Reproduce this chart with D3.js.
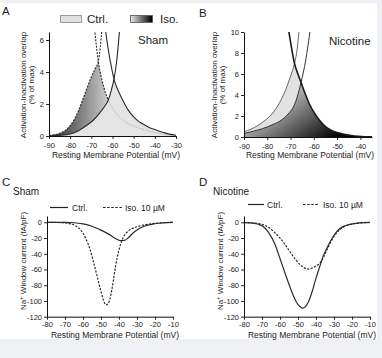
<!DOCTYPE html>
<html><head><meta charset="utf-8">
<script src="https://cdn.jsdelivr.net/npm/d3@7"></script>
<style>
html,body{margin:0;padding:0;background:#eff0f4;}
svg{display:block;}
text{font-family:"Liberation Sans",Arial,sans-serif;fill:#222;}
</style></head><body>
<svg id="c" width="382" height="358"></svg>
<script>
// ---------- DATA ----------
// Panel A (Sham) : [membrane potential mV, overlap % of max]
const aCtrlAct   = [[-90,0.01],[-85,0.04],[-80,0.13],[-77,0.27],[-74,0.5],[-71,0.78],[-69,1.0],[-66,1.45],[-64,1.8],[-62,2.25],[-60.5,2.9],[-59.3,3.56],[-58,4.7],[-57,6.1],[-56,7.6]];
const aCtrlInact = [[-64.5,7.8],[-63.2,6.5],[-62,5.4],[-60.5,4.3],[-59.3,3.56],[-57,2.75],[-55,2.2],[-52.5,1.6],[-50,1.2],[-47.5,0.9],[-45,0.7],[-42.5,0.52],[-40,0.4],[-37.5,0.28],[-35,0.18],[-32.5,0.1],[-30,0.05]];
const aIsoAct    = [[-90,0.04],[-87,0.1],[-84,0.22],[-82,0.38],[-80,0.65],[-78,1.05],[-76,1.6],[-74,2.3],[-72,3.0],[-70,3.7],[-68,4.25],[-66.7,4.65],[-65.8,5.5],[-65.1,6.5],[-64.5,7.5]];
const aIsoInact  = [[-69,7.5],[-68.3,6.5],[-67.5,5.5],[-66.7,4.65],[-65.5,3.8],[-64,3.0],[-62,2.25],[-60,1.75],[-57.5,1.3],[-55,1.0],[-52.5,0.78],[-50,0.62],[-47.5,0.5],[-45,0.4],[-42.5,0.3],[-40,0.22],[-37.5,0.15],[-35,0.09],[-32.5,0.04],[-30,0.02]];
// Panel B (Nicotine)
const bCtrlAct = [[-90,0.5],[-87,0.75],[-84,1.1],[-81.7,1.46],[-78,2.2],[-74.5,3.36],[-72,4.55],[-70.3,5.6],[-69.2,6.3],[-68.3,7.0],[-67.2,8.3],[-66.4,10],[-65.8,11.5]];
const bIsoAct  = [[-90,0.33],[-86,0.55],[-82,0.8],[-78,1.15],[-74,1.6],[-71,2.2],[-68.5,3.0],[-67,3.9],[-65.5,5.2],[-64,6.7],[-62.7,8.4],[-61.7,10],[-61,11.3]];
const bInact   = [[-71.5,11.2],[-70.7,10],[-69.5,8.4],[-68.3,7.0],[-67,6.1],[-65.5,5.2],[-63.5,4.0],[-61.7,3.05],[-59.5,2.2],[-57.4,1.55],[-55,1.0],[-53,0.7],[-50,0.42],[-47,0.25],[-44,0.14],[-41,0.07],[-38,0.03],[-35,0.01]];
// Panel C (Sham) window current fA/pF
const cCtrl = [[-80,0],[-70,-0.2],[-65,-0.6],[-60,-2],[-55,-5],[-50,-10],[-45,-16],[-42,-20.5],[-39,-23.2],[-37,-23],[-35,-20],[-33,-15.5],[-31,-11.5],[-29,-8.3],[-26,-5],[-22,-2.6],[-18,-1.2],[-14,-0.5],[-10,-0.2]];
const cIso  = [[-80,0],[-72,-0.5],[-68,-1.5],[-65,-3.5],[-62,-8],[-60,-14],[-58,-23],[-56,-35],[-54,-52],[-52,-70],[-50,-88],[-48.5,-100],[-47.2,-105],[-46,-103],[-45,-97],[-44,-86],[-43,-72],[-42,-57],[-41,-45],[-40,-35],[-38.5,-23.5],[-37,-16.5],[-35,-11.5],[-33,-8.3],[-30,-5.6],[-27,-3.8],[-24,-2.5],[-20,-1.4],[-15,-0.5],[-10,-0.15]];
// Panel D (Nicotine)
const dCtrl = [[-80,-0.3],[-75,-1],[-72,-2.5],[-69,-6],[-66,-14],[-63,-27],[-60,-46],[-57,-66],[-54,-85],[-51,-101],[-49,-107],[-47.4,-109],[-46,-107.5],[-44,-100],[-42,-87],[-40,-71],[-38,-57],[-36,-43],[-34,-33],[-32,-24],[-30,-16.5],[-28,-10.5],[-25,-5.5],[-22,-3],[-18,-1.3],[-14,-0.5],[-10,-0.2]];
const dIso  = [[-80,-0.2],[-75,-0.8],[-70,-2.5],[-66,-7],[-63,-13],[-60,-20],[-57,-29],[-54,-39],[-51,-48.5],[-48,-55.5],[-45.5,-59],[-43.7,-59.5],[-42,-58],[-40,-55.5],[-38,-52.5],[-36,-45],[-34,-35.5],[-32,-26],[-30,-18],[-28,-12],[-25,-6.5],[-22,-3.5],[-18,-1.5],[-14,-0.6],[-10,-0.25]];
// tick labels
const abXTicksA = [-90,-80,-70,-60,-50,-40,-30];
const abXTicksB = [-90,-80,-70,-60,-50,-40];
const aYTicks = [0,2,4,6];
const bYTicks = [0,2,4,6,8,10];
const cdXTicks = [-80,-70,-60,-50,-40,-30,-20,-10];
const cdYTicks = [0,-20,-40,-60,-80,-100,-120];
const xTitle = "Resting Membrane Potential (mV)";

// ---------- DRAWING ----------
const svg = d3.select("#c");
svg.append("rect").attr("x",0).attr("y",3).attr("width",377).attr("height",336).attr("fill","#fff");
const defs = svg.append("defs");
let uid = 0;

function grad(id, x1,y1,x2,y2, stops){
  const g = defs.append("linearGradient").attr("id",id).attr("gradientUnits","userSpaceOnUse")
    .attr("x1",x1).attr("y1",y1).attr("x2",x2).attr("y2",y2);
  stops.forEach(s=>g.append("stop").attr("offset",s[0]).attr("stop-color",s[1]));
}

function drawAxes(x, y, xt, xm, yt, ym, xpad){
  const gx = svg.append("g").attr("transform",`translate(0,${y.range()[0]})`);
  gx.call(d3.axisBottom(x).tickValues(xm).tickSize(1.8).tickSizeOuter(0).tickFormat(""));
  gx.call(d3.axisBottom(x).tickValues(xt).tickSize(3).tickPadding(xpad).tickSizeOuter(0).tickFormat(d=>String(d)));
  const gy = svg.append("g").attr("transform",`translate(${x.range()[0]},0)`);
  gy.call(d3.axisLeft(y).tickValues(ym).tickSize(1.8).tickSizeOuter(0).tickFormat(""));
  gy.call(d3.axisLeft(y).tickValues(yt).tickSize(3).tickPadding(2).tickSizeOuter(0).tickFormat(d=>String(d)));
  [gx,gy].forEach(g=>{
    g.selectAll("path.domain").attr("stroke","#111").attr("stroke-width",1);
    g.selectAll("line").attr("stroke","#111").attr("stroke-width",0.9);
    g.selectAll("text").attr("font-size",7.5).attr("fill","#222").attr("font-family","Liberation Sans, Arial, sans-serif");
  });
}

function frame(x,y){
  return {x:x.range()[0], y:y.range()[1], w:x.range()[1]-x.range()[0], h:y.range()[0]-y.range()[1]};
}
function plotClip(x,y){
  const id = "pc"+(uid++), f = frame(x,y);
  defs.append("clipPath").attr("id",id).append("rect").attr("x",f.x).attr("y",f.y).attr("width",f.w).attr("height",f.h);
  return id;
}
// clip = area under a curve; the curve leaves the frame at its top end,
// so the part of the frame beyond that end is added as well
function areaClip(x,y,data,side){
  const id = "ac"+(uid++);
  const ar = d3.area().x(d=>x(d[0])).y0(y(0)).y1(d=>y(d[1])).curve(d3.curveMonotoneX);
  const cp = defs.append("clipPath").attr("id",id);
  cp.append("path").attr("d",ar(data));
  const xs = x.range(), ys = y.range();
  const xb = side==="left" ? x(data[0][0]) : x(data[data.length-1][0]);
  const rx0 = side==="left" ? xs[0]-5 : xb-0.5;
  const rx1 = side==="left" ? xb+0.5 : xs[1]+5;
  cp.append("rect").attr("x",rx0).attr("y",ys[1]-50).attr("width",rx1-rx0).attr("height",ys[0]-ys[1]+50);
  return id;
}
// fill the overlap: under the rising curve AND under the falling curve
function overlap(g,x,y,act,inact,fill){
  const ca = areaClip(x,y,act,"right"), ci = areaClip(x,y,inact,"left"), f = frame(x,y);
  g.append("g").attr("clip-path",`url(#${ca})`).append("rect").attr("clip-path",`url(#${ci})`)
    .attr("x",f.x).attr("y",f.y).attr("width",f.w).attr("height",f.h).attr("fill",fill);
  return {ca,ci};
}
function lineGen(x,y){ return d3.line().x(d=>x(d[0])).y(d=>y(d[1])).curve(d3.curveMonotoneX); }

function rotLabel(lines, cy, size){
  lines.forEach(l=>{
    svg.append("text").attr("transform",`translate(${l.x},${cy}) rotate(-90)`)
      .attr("text-anchor","middle").attr("font-size",size).text(l.t);
  });
}
function txt(t,x,y,size,anchor){
  return svg.append("text").attr("x",x).attr("y",y).attr("font-size",size).attr("text-anchor",anchor||"start").text(t);
}

// ===== Panel A =====
{
  const x = d3.scaleLinear([-90,-30],[49,176]);
  const y = d3.scaleLinear([0,6.5],[136,32]);
  const pc = plotClip(x,y);
  grad("gA", x(-84), 0, x(-62), 0, [[0,"#4a4a4a"],[1,"#cdcdcd"]]);
  const L = lineGen(x,y);
  const g = svg.append("g").attr("clip-path",`url(#${pc})`);
  overlap(g,x,y,aIsoAct,aIsoInact,"url(#gA)");
  [aIsoAct,aIsoInact].forEach(d=>g.append("path").attr("d",L(d)).attr("fill","none").attr("stroke","#2a2a2a").attr("stroke-width",1.1).attr("stroke-dasharray","2,1.3"));
  const c = overlap(g,x,y,aCtrlAct,aCtrlInact,"#e4e4e4");
  g.append("g").attr("clip-path",`url(#${c.ci})`).append("path").attr("clip-path",`url(#${c.ca})`)
    .attr("d",L(aIsoInact)).attr("fill","none").attr("stroke","#a8a8a8").attr("stroke-width",0.8).attr("stroke-dasharray","1.5,1");
  [aCtrlAct,aCtrlInact].forEach(d=>g.append("path").attr("d",L(d)).attr("fill","none").attr("stroke","#2a2a2a").attr("stroke-width",1.1));
  drawAxes(x,y,abXTicksA,d3.range(-85,-30,10),aYTicks,[1,3,5],3.5);
  txt(xTitle,116,158,8.5,"middle");
  rotLabel([{x:26,t:"Activation-Inactivation overlap"},{x:33.5,t:"(% of max)"}],85,8);
  txt("Sham",138,43.5,11.5);
  txt("A",2,15,11.5);
  // legend
  grad("gLeg", 130,0,152,0, [[0,"#eeeeee"],[1,"#000"]]);
  svg.append("rect").attr("x",60.5).attr("y",15.5).attr("width",21).attr("height",7).attr("fill","#e0e0e0").attr("stroke","#888").attr("stroke-width",0.8);
  txt("Ctrl.",87,23,11.5);
  svg.append("rect").attr("x",130.5).attr("y",15.5).attr("width",22).attr("height",7).attr("fill","url(#gLeg)").attr("stroke","#555").attr("stroke-width",0.8);
  txt("Iso.",160,23,11.5);
}

// ===== Panel B =====
{
  const x = d3.scaleLinear([-90,-35],[244,372]);
  const y = d3.scaleLinear([0,10],[137,32]);
  const pc = plotClip(x,y);
  grad("gB", x(-71), y(6.5), x(-50), y(0), [[0,"#f4f4f4"],[1,"#000"]]);
  const L = lineGen(x,y);
  const g = svg.append("g").attr("clip-path",`url(#${pc})`);
  overlap(g,x,y,bCtrlAct,bInact,"#e2e2e2");
  overlap(g,x,y,bIsoAct,bInact,"url(#gB)");
  g.append("path").attr("d",L(bCtrlAct)).attr("fill","none").attr("stroke","#555").attr("stroke-width",0.9);
  g.append("path").attr("d",L(bIsoAct)).attr("fill","none").attr("stroke","#333").attr("stroke-width",1);
  g.append("path").attr("d",L(bInact)).attr("fill","none").attr("stroke","#1a1a1a").attr("stroke-width",1.6);
  drawAxes(x,y,abXTicksB,d3.range(-85,-35,10),bYTicks,[1,3,5,7,9],3.5);
  txt(xTitle,310,158,8.5,"middle");
  rotLabel([{x:217,t:"Activation-Inactivation overlap"},{x:224.5,t:"(% of max)"}],85,8);
  txt("Nicotine",329,45,11.5);
  txt("B",199,17,11.5);
}

// ===== Panels C & D =====
function currentPanel(x, ctrl, iso){
  const y = d3.scaleLinear([-120,8],[316.7,216]);
  const pc = plotClip(x,y);
  const L = lineGen(x,y);
  const g = svg.append("g").attr("clip-path",`url(#${pc})`);
  g.append("path").attr("d",L(iso)).attr("fill","none").attr("stroke","#2a2a2a").attr("stroke-width",1.2).attr("stroke-dasharray","2.2,1.4");
  g.append("path").attr("d",L(ctrl)).attr("fill","none").attr("stroke","#2a2a2a").attr("stroke-width",1.2);
  drawAxes(x,y,cdXTicks,d3.range(-75,-10,10),cdYTicks,d3.range(-110,0,20),2);
  const x0 = x.range()[0];
  txt(xTitle,(x.range()[0]+x.range()[1])/2+5,337.5,8.5,"middle");
  const t = svg.append("text").attr("transform",`translate(${x0-21},261) rotate(-90)`).attr("text-anchor","middle").attr("font-size",8);
  t.append("tspan").text("Na");
  t.append("tspan").attr("dy",-3).attr("font-size",6).text("+");
  t.append("tspan").attr("dy",3).text(" Window current (fA/pF)");
  return y;
}
{
  const x = d3.scaleLinear([-80,-10],[47,173]);
  currentPanel(x,cCtrl,cIso);
  txt("C",2,186,11.5);
  txt("Sham",13,195,10);
  svg.append("line").attr("x1",50).attr("x2",68).attr("y1",207.5).attr("y2",207.5).attr("stroke","#222").attr("stroke-width",1.2);
  txt("Ctrl.",72,210.5,8.5);
  svg.append("line").attr("x1",103).attr("x2",122).attr("y1",207.5).attr("y2",207.5).attr("stroke","#222").attr("stroke-width",1.2).attr("stroke-dasharray","2.5,1.6");
  txt("Iso. 10 \u00b5M",125,210.5,8.5);
}
{
  const x = d3.scaleLinear([-80,-10],[244,370]);
  currentPanel(x,dCtrl,dIso);
  txt("D",199,186,11.5);
  txt("Nicotine",213,195,10);
  svg.append("line").attr("x1",248).attr("x2",264).attr("y1",204.5).attr("y2",204.5).attr("stroke","#222").attr("stroke-width",1.2);
  txt("Ctrl.",267,207.5,8.5);
  svg.append("line").attr("x1",303).attr("x2",319).attr("y1",204.5).attr("y2",204.5).attr("stroke","#222").attr("stroke-width",1.2).attr("stroke-dasharray","2.5,1.6");
  txt("Iso. 10 \u00b5M",323,207.5,8.5);
}
</script>
</body></html>
